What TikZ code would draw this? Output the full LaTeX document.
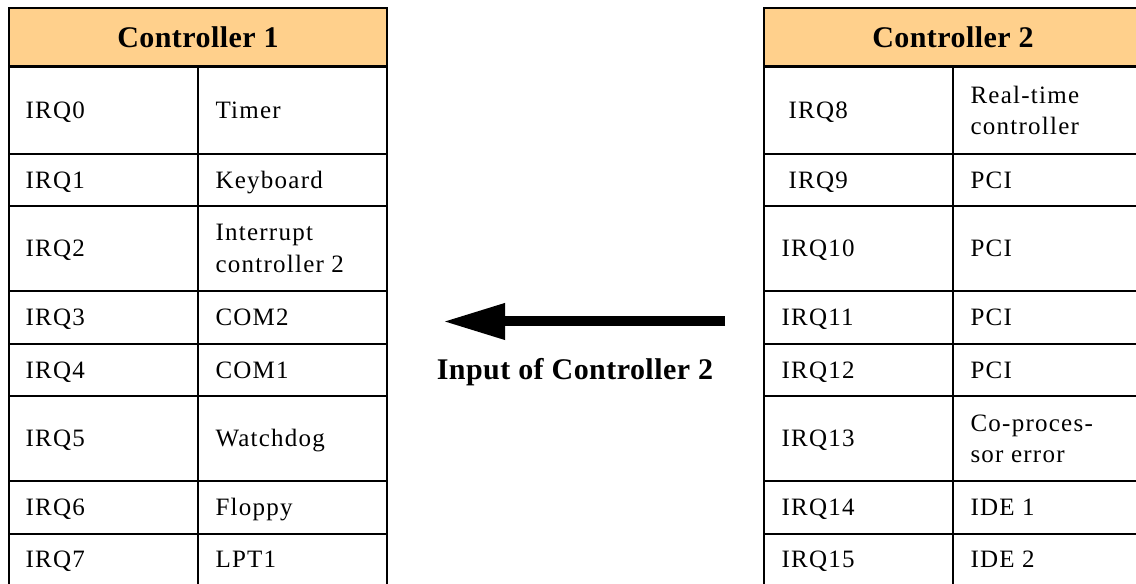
\documentclass[tikz,border=0pt]{standalone}
\usepackage{fontspec}
\setmainfont{Liberation Serif}
\newfontfamily\cellfont[LetterSpace=5]{Liberation Serif}
\newfontfamily\headfont[LetterSpace=1.5]{Liberation Serif}
\usetikzlibrary{arrows.meta}
\definecolor{headorange}{HTML}{FFD08C}
\tikzset{
  rule/.style={line width=0.8pt},
  headrule/.style={line width=1.2pt},
  cell/.style={anchor=west, inner sep=0pt, text height=6.62pt, text depth=0pt,
    font=\cellfont\fontsize{10}{12.5}\selectfont},
  cellwrap/.style={anchor=west, inner sep=0pt, align=left,
    font=\cellfont\fontsize{10}{12.5}\selectfont},
  headtext/.style={anchor=center, inner sep=0pt, text height=8.1pt, text depth=0pt,
    font=\headfont\bfseries\fontsize{12}{14}\selectfont},
  bigarrow/.style={line width=4pt, -{Triangle[length=24.8pt,width=13.6pt]}}
}
\begin{document}
\begin{tikzpicture}[x=0.4pt,y=-0.4pt]
\clip (0,0) rectangle (1136,584);

% ---------- Controller 1 ----------
\fill[headorange] (9,8) rectangle (387,67);
\draw[rule] (9,8) rectangle (387,592);
\draw[headrule] (9,67) -- (387,67);
\foreach \y in {154,206,291,344,396,481,534}
  \draw[rule] (9,\y) -- (387,\y);
\draw[rule] (198,67) -- (198,592);
\node[headtext] (h1) at (198,37.5) {Controller 1};

\node[cell] (a0) at (25,110.5) {IRQ0};
\node[cell] (b0) at (215,110.5) {Timer};
\node[cell] (a1) at (25,180) {IRQ1};
\node[cell] (b1) at (215,180) {Keyboard};
\node[cell] (a2) at (25,248.5) {IRQ2};
\node[cellwrap] (b2) at (215,248.5) {Interrupt\\controller 2};
\node[cell] (a3) at (25,317.5) {IRQ3};
\node[cell] (b3) at (215,317.5) {COM2};
\node[cell] (a4) at (25,370) {IRQ4};
\node[cell] (b4) at (215,370) {COM1};
\node[cell] (a5) at (25,438.5) {IRQ5};
\node[cell] (b5) at (215,438.5) {Watchdog};
\node[cell] (a6) at (25,507.5) {IRQ6};
\node[cell] (b6) at (215,507.5) {Floppy};
\node[cell] (a7) at (25,559) {IRQ7};
\node[cell] (b7) at (215,559) {LPT1};

% ---------- Controller 2 ----------
\fill[headorange] (764,8) rectangle (1142,67);
\draw[rule] (764,8) rectangle (1142,592);
\draw[headrule] (764,67) -- (1142,67);
\foreach \y in {154,206,291,344,396,481,534}
  \draw[rule] (764,\y) -- (1142,\y);
\draw[rule] (953,67) -- (953,592);
\node[headtext] (h2) at (953,37.5) {Controller 2};

\node[cell] (c8) at (788,110.5) {IRQ8};
\node[cellwrap] (d8) at (970,110.5) {Real-time\\controller};
\node[cell] (c9) at (788,180) {IRQ9};
\node[cell] (d9) at (970,180) {PCI};
\node[cell] (c10) at (781,248.5) {IRQ10};
\node[cell] (d10) at (970,248.5) {PCI};
\node[cell] (c11) at (781,317.5) {IRQ11};
\node[cell] (d11) at (970,317.5) {PCI};
\node[cell] (c12) at (781,370) {IRQ12};
\node[cell] (d12) at (970,370) {PCI};
\node[cell] (c13) at (781,438.5) {IRQ13};
\node[cellwrap] (d13) at (970,438.5) {Co-proces-\\sor error};
\node[cell] (c14) at (781,507.5) {IRQ14};
\node[cell] (d14) at (970,507.5) {IDE 1};
\node[cell] (c15) at (781,559) {IRQ15};
\node[cell] (d15) at (970,559) {IDE 2};

% ---------- cascade arrow ----------
\coordinate (tail) at (725,321.5);
\coordinate (tip) at (443,321.5);
\draw[bigarrow] (tail) -- (tip);
\node[headtext] (cascade) at (575,369) {Input of Controller 2};
\end{tikzpicture}
\end{document}
